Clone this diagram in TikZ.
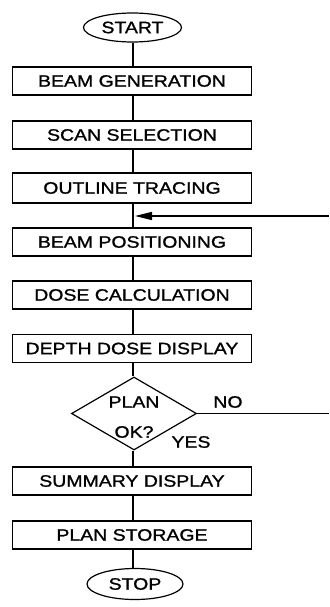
\documentclass[tikz,border=0pt]{standalone}
\usepackage{fontspec}
\setmainfont{Liberation Sans}[FakeStretch=1.18, FakeBold=1.1]
\usetikzlibrary{shapes.geometric,arrows.meta}
\tikzset{
  txt/.style={font=\fontsize{16.5}{19}\selectfont},
  stepbox/.style={draw, txt, line width=1.2pt, minimum width=239pt, minimum height=28pt, inner sep=0pt},
  term/.style={draw, txt, ellipse, line width=1.2pt, minimum width=98pt, minimum height=29pt, inner sep=0pt},
  decide/.style={draw, diamond, line width=1.2pt, minimum width=125pt, minimum height=73pt, inner sep=0pt, aspect=1.7},
  lbl/.style={txt, inner sep=0pt},
  link/.style={line width=1.4pt}
}
\begin{document}
\begin{tikzpicture}
\useasboundingbox (0,0) rectangle (329pt,-607pt);
\fill[white] (0,0) rectangle (329pt,-607pt);
\node[term] (start) at (132.5pt,-27.5pt) {START};
\node[stepbox] (b1) at (132pt,-81pt) {BEAM GENERATION};
\node[stepbox] (b2) at (132pt,-135pt) {SCAN SELECTION};
\node[stepbox, minimum height=30pt] (b3) at (132pt,-188pt) {OUTLINE TRACING};
\node[stepbox] (b4) at (132pt,-242pt) {BEAM POSITIONING};
\node[stepbox] (b5) at (132pt,-295pt) {DOSE CALCULATION};
\node[stepbox] (b6) at (132pt,-348.5pt) {DEPTH DOSE DISPLAY};
\node[decide] (dec) at (134pt,-413.5pt) {};
\node[lbl] (plan) at (134pt,-402pt) {PLAN};
\node[lbl] (ok) at (134pt,-432pt) {OK?};
\node[lbl] (no) at (228pt,-402pt) {NO};
\node[lbl] (yes) at (191pt,-442pt) {YES};
\node[stepbox] (b7) at (132pt,-481pt) {SUMMARY DISPLAY};
\node[stepbox] (b8) at (132pt,-535pt) {PLAN STORAGE};
\node[term, minimum width=96pt, minimum height=31pt] (stop) at (135pt,-584pt) {STOP};
\coordinate (join) at (133pt,-216pt);
\coordinate (loopin) at (329pt,-216pt);
\coordinate (noend) at (329pt,-413.5pt);
\draw[link] (start.south -| join) -- (b1.north -| join);
\draw[link] (b1.south -| join) -- (b2.north -| join);
\draw[link] (b2.south -| join) -- (b3.north -| join);
\draw[link] (b3.south -| join) -- (join) -- (b4.north -| join);
\draw[link] (b4.south -| join) -- (b5.north -| join);
\draw[link] (b5.south -| join) -- (b6.north -| join);
\draw[link] (b6.south -| join) -- (dec.north -| join);
\draw[link] (dec.south -| join) -- (b7.north -| join);
\draw[link] (b7.south -| join) -- (b8.north -| join);
\draw[link] (b8.south -| join) -- (stop.north -| join);
\draw[link, -{Triangle[length=17pt, width=8pt]}] (loopin) -- ([xshift=2pt]join);
\draw[link] (dec.east) -- (noend);
\end{tikzpicture}
\end{document}
